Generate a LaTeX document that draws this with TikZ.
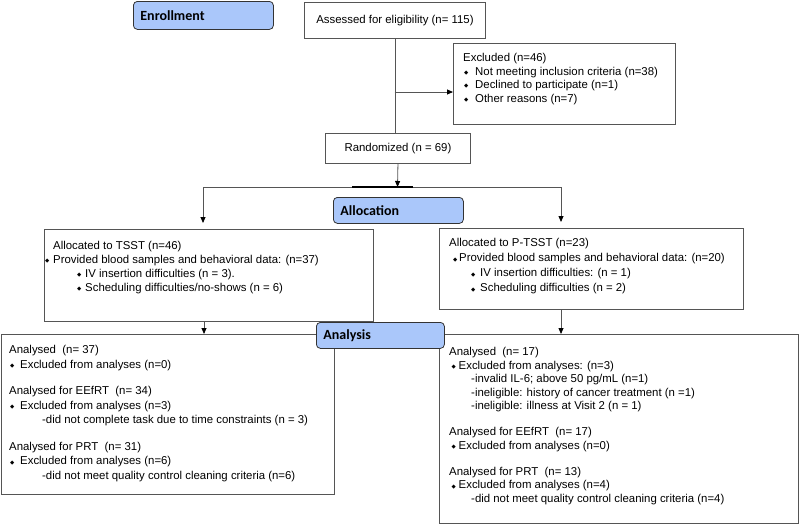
\documentclass[tikz,border=0pt]{standalone}
\usepackage{fontspec}
\setmainfont{Liberation Sans}
\newfontfamily\carlito{Carlito}
\newfontfamily\dejavu{DejaVu Sans}
\usetikzlibrary{arrows.meta}
\definecolor{labelblue}{RGB}{170,199,250}
\definecolor{boxgray}{RGB}{85,85,85}
\newcommand\bul{\raisebox{0.8pt}{\dejavu\fontsize{5.5}{5.5}\selectfont ◆}}
\begin{document}
\begin{tikzpicture}[x=1pt,y=-1pt,
  box/.style={draw=boxgray, line width=0.9pt, inner sep=0, anchor=north west, font=\fontsize{11.4}{14}\selectfont},
  lbl/.style={draw=black!80, fill=labelblue, rounded corners=4pt, line width=0.8pt, inner ysep=0, inner xsep=7pt, anchor=north west, align=left, font=\carlito\bfseries\fontsize{14}{16}\selectfont},
  txt/.style={align=left, anchor=north west, inner sep=0},
  arr/.style={draw=boxgray, -{Triangle[length=6pt,width=5pt,color=black]}, line width=0.8pt},
  ln/.style={draw=boxgray, line width=0.8pt}]
\useasboundingbox (0,0) rectangle (800,525);

% boxes
\node[box, minimum width=181pt, minimum height=36pt] (assess) at (304,2) {Assessed for eligibility (n= 115)};
\node[box, minimum width=222pt, minimum height=81pt] (excl) at (453,43) {};
\node[box, minimum width=145pt, minimum height=30pt] (rand) at (325,133) {Randomized (n = 69)};
\node[box, minimum width=329pt, minimum height=92pt] (lalloc) at (44,229) {};
\node[box, minimum width=304pt, minimum height=81pt] (ralloc) at (439,228) {};
\node[box, minimum width=333pt, minimum height=160pt] (lanal) at (0.5,334) {};
\node[box, minimum width=359pt, minimum height=189pt] (ranal) at (439,334) {};

% texts
\node[txt, font=\fontsize{11.4}{13.4}\selectfont] (excltxt) at (453,53.5) {%
\hspace*{10pt}Excluded (n=46)\\
\hspace*{11pt}\makebox[11pt][l]{\bul}Not meeting inclusion criteria (n=38)\\
\hspace*{11pt}\makebox[11pt][l]{\bul}Declined to participate (n=1)\\
\hspace*{11pt}\makebox[11pt][l]{\bul}Other reasons (n=7)};

\node[txt, font=\fontsize{11.4}{13.8}\selectfont] (lalloctxt) at (44,241.5) {%
\hspace*{9pt}Allocated to TSST (n=46)\\
\hspace*{1pt}\makebox[8pt][l]{\bul}Provided blood samples and behavioral data: (n=37)\\
\hspace*{33pt}\makebox[8pt][l]{\bul}IV insertion difficulties (n = 3).\\
\hspace*{33pt}\makebox[8pt][l]{\bul}Scheduling difficulties/no-shows (n = 6)};

\node[txt, font=\fontsize{11.4}{15}\selectfont] (ralloctxt) at (439,238.5) {%
\hspace*{10pt}Allocated to P-TSST (n=23)\\
\hspace*{14pt}\makebox[6pt][l]{\bul}Provided blood samples and behavioral data: (n=20)\\
\hspace*{32pt}\makebox[9pt][l]{\bul}IV insertion difficulties: (n = 1)\\
\hspace*{32pt}\makebox[9pt][l]{\bul}Scheduling difficulties (n = 2)};

\node[txt, font=\fontsize{11.4}{14.5}\selectfont] (lanaltxt) at (0,345.5) {%
\hspace*{9pt}Analysed\ \ (n= 37)\\
\hspace*{10pt}\makebox[10pt][l]{\bul}Excluded from analyses (n=0)\\[12pt]
\hspace*{9pt}Analysed for EEfRT\ \ (n= 34)\\
\hspace*{10pt}\makebox[10pt][l]{\bul}Excluded from analyses (n=3)\\
\hspace*{42pt}-did not complete task due to time constraints (n = 3)\\[12pt]
\hspace*{9pt}Analysed for PRT\ \ (n= 31)\\
\hspace*{10pt}\makebox[10pt][l]{\bul}Excluded from analyses (n=6)\\
\hspace*{42pt}-did not meet quality control cleaning criteria (n=6)};

\node[txt, font=\fontsize{11.4}{13.5}\selectfont] (ranaltxt) at (439,347.5) {%
\hspace*{10pt}Analysed\ \ (n= 17)\\
\hspace*{12.5pt}\makebox[7pt][l]{\bul}Excluded from analyses: (n=3)\\
\hspace*{32pt}-invalid IL-6; above 50 pg/mL (n=1)\\
\hspace*{32pt}-ineligible: history of cancer treatment (n =1)\\
\hspace*{32pt}-ineligible: illness at Visit 2 (n = 1)\\[12.5pt]
\hspace*{10pt}Analysed for EEfRT\ \ (n= 17)\\
\hspace*{12.5pt}\makebox[7pt][l]{\bul}Excluded from analyses (n=0)\\[12.5pt]
\hspace*{10pt}Analysed for PRT\ \ (n= 13)\\
\hspace*{12.5pt}\makebox[7pt][l]{\bul}Excluded from analyses (n=4)\\
\hspace*{32pt}-did not meet quality control cleaning criteria (n=4)};

% connectors
\coordinate (exj) at (394.5,92);
\draw[ln] (assess.south) -- (assess.south |- rand.north);
\draw[arr] (exj) -- (exj -| excl.west);
\coordinate (split) at (397.5,187);
\coordinate (L) at (203,187);
\coordinate (R) at (561,187);
\coordinate (tl) at (352,187);
\coordinate (tr) at (413,187);
\draw[arr] (rand.south) -- (split);
\draw[ln] (L) -- (R);
\draw[line width=1.6pt] (tl) -- (tr);
\draw[arr, shorten >=6pt] (L) -- (L |- lalloc.north);
\draw[arr, shorten >=6pt] (R) -- (R |- ralloc.north);
\coordinate (la) at (204,321);
\coordinate (ra) at (561,309);
\draw[arr] (la) -- (la |- lanal.north);
\draw[arr] (ra) -- (ra |- ranal.north);

% stage labels
\node[lbl, text width=126pt, minimum height=28pt] (enroll) at (133,1) {Enrollment};
\node[lbl, text width=116pt, minimum height=26pt] (alloc) at (333,197) {Allocation};
\node[lbl, text width=114pt, minimum height=26pt] (anal) at (316,322) {Analysis};
\end{tikzpicture}
\end{document}
